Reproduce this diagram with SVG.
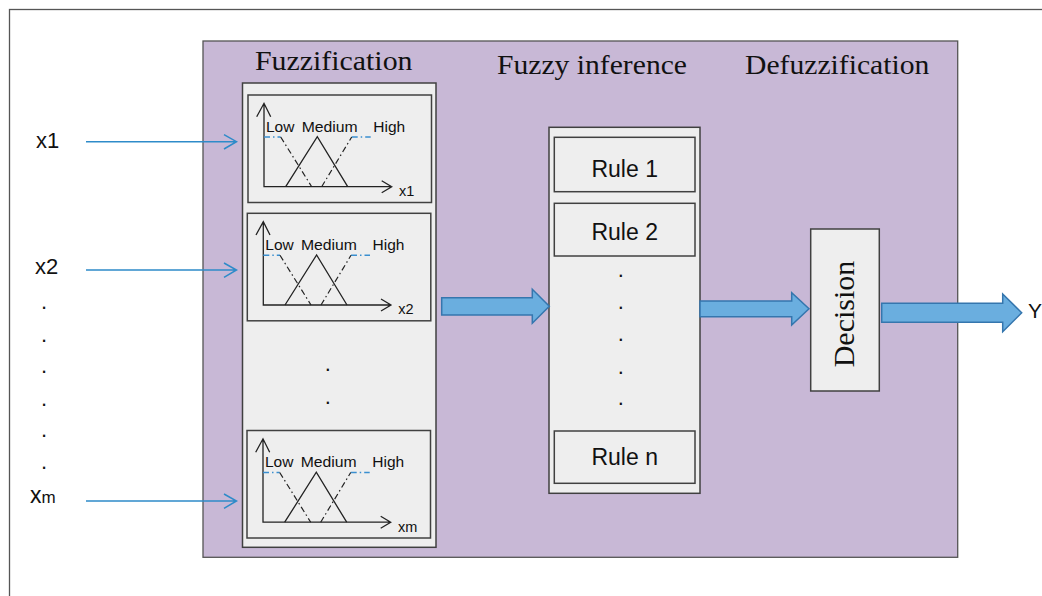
<svg xmlns="http://www.w3.org/2000/svg" xmlns:xlink="http://www.w3.org/1999/xlink" width="1042" height="596" viewBox="0 0 1042 596">
<style>
.sans{font-family:"Liberation Sans",Arial,sans-serif;fill:#111}
.serif{font-family:"Liberation Serif","Times New Roman",serif;fill:#111}
.box{fill:#EEEEEE;stroke:#404040;stroke-width:1.5}
.ax{fill:none;stroke:#222;stroke-width:1.3}
.dd{fill:none;stroke:#222;stroke-width:1.2;stroke-dasharray:6 3 1.5 3}
.bd{fill:none;stroke:#3A8FD0;stroke-width:1.5;stroke-dasharray:6 3 1.5 3}
.inp{fill:none;stroke:#2E8BC9;stroke-width:1.5}
.blk{fill:#6AAEDF;stroke:#3576AE;stroke-width:1.5}
.mfl{font-size:15.5px}
.dot{font-size:22px;text-anchor:middle}
</style>
<defs>
<g id="mf">
<rect x="0" y="0" width="183.5" height="107.5" class="box"/>
<path class="ax" d="M16,8.3 V91.7 H143.7 M8.7,21.7 L16,8.3 L22.7,21.7 M133.7,85.7 L143.7,91.7 L133.7,97.7"/>
<path class="ax" d="M37.7,91.7 L69.3,41.7 L99.7,91.7"/>
<path class="bd" d="M16,42 H32.7 M103.7,42 H122.7"/>
<path class="dd" d="M32.7,42 L63.7,91.7 M73.7,91.7 L103.7,42"/>
<text class="sans mfl" x="18" y="36.7">Low</text>
<text class="sans mfl" x="53.7" y="36.7" textLength="56" lengthAdjust="spacingAndGlyphs">Medium</text>
<text class="sans mfl" x="125.3" y="36.7">High</text>
</g>
</defs>
<rect x="9.5" y="9.5" width="1100" height="700" fill="#FFFFFF" stroke="#555" stroke-width="1.3"/>
<rect id="system" x="203" y="41" width="754.7" height="516.3" fill="#C8B8D6" stroke="#555" stroke-width="1.3"/>
<text class="serif" x="255" y="69.5" font-size="28" textLength="157.5" lengthAdjust="spacingAndGlyphs">Fuzzification</text>
<text class="serif" x="497" y="74.3" font-size="28" textLength="190" lengthAdjust="spacingAndGlyphs">Fuzzy inference</text>
<text class="serif" x="745" y="74.3" font-size="28" textLength="184.3" lengthAdjust="spacingAndGlyphs">Defuzzification</text>

<g id="inputs">
<text class="sans" x="36" y="148" font-size="22">x1</text>
<text class="sans" x="35" y="274" font-size="22">x2</text>
<text class="sans" x="30" y="502.7" font-size="23">x<tspan font-size="17">m</tspan></text>
<text class="sans dot" x="44" y="309">.</text>
<text class="sans dot" x="44" y="341.5">.</text>
<text class="sans dot" x="44" y="373.2">.</text>
<text class="sans dot" x="44" y="405.5">.</text>
<text class="sans dot" x="44" y="436.5">.</text>
<text class="sans dot" x="44" y="468.8">.</text>
</g>

<g id="fuzzification">
<rect x="242.5" y="83" width="193.5" height="464.3" class="box"/>
<g id="mf1">
<use xlink:href="#mf" href="#mf" x="248" y="95"/>
<text class="sans" x="399" y="196" font-size="14.5">x1</text>
</g>
<g id="mf2">
<use xlink:href="#mf" href="#mf" x="247.3" y="213.3"/>
<text class="sans" x="398.3" y="314.3" font-size="14.5">x2</text>
</g>
<g id="mfm">
<use xlink:href="#mf" href="#mf" x="247" y="430.5"/>
<text class="sans" x="398" y="531.5" font-size="14.5">xm</text>
</g>
<text class="sans dot" x="327.7" y="371">.</text>
<text class="sans dot" x="327.7" y="403.7">.</text>
</g>

<g id="inference">
<rect x="549" y="127.3" width="151" height="366" class="box"/>
<g id="rule1">
<rect x="554.3" y="137.3" width="140.7" height="54.4" class="box"/>
<text class="sans" x="624.7" y="176.7" font-size="23" text-anchor="middle">Rule 1</text>
</g>
<g id="rule2">
<rect x="554.3" y="203.3" width="140.7" height="52.7" class="box"/>
<text class="sans" x="624.7" y="240" font-size="23" text-anchor="middle">Rule 2</text>
</g>
<g id="rulen">
<rect x="554.3" y="431" width="140.7" height="52.3" class="box"/>
<text class="sans" x="624.7" y="465" font-size="23" text-anchor="middle">Rule n</text>
</g>
<text class="sans dot" x="620.7" y="276.7">.</text>
<text class="sans dot" x="620.7" y="309">.</text>
<text class="sans dot" x="620.7" y="341.3">.</text>
<text class="sans dot" x="620.7" y="373.6">.</text>
<text class="sans dot" x="620.7" y="405">.</text>
</g>

<g id="decision">
<rect x="810.7" y="229" width="68.6" height="162" class="box"/>
<text class="serif" transform="translate(854,314) rotate(-90)" font-size="30" text-anchor="middle">Decision</text>
</g>

<text id="output" class="sans" x="1028" y="318" font-size="21">Y</text>

<g id="connectors">
<path class="inp" d="M86,141.7 H236.5 M224,134.7 L236.5,141.7 L224,149"/>
<path class="inp" d="M86,270 H236.5 M224,263 L236.5,270 L224,277.3"/>
<path class="inp" d="M86,501 H236.5 M224,494 L236.5,501 L224,508.3"/>
<polygon class="blk" points="441.7,297.7 532.3,297.7 532.3,289.3 549.3,306.3 532.3,323.3 532.3,315 441.7,315"/>
<polygon class="blk" points="700,301 791.7,301 791.7,292.7 809,308.8 791.7,325 791.7,316.7 700,316.7"/>
<polygon class="blk" points="881.7,303.3 1002.7,303.3 1002.7,294 1021.7,312.8 1002.7,331.7 1002.7,322.3 881.7,322.3"/>
</g>
</svg>
